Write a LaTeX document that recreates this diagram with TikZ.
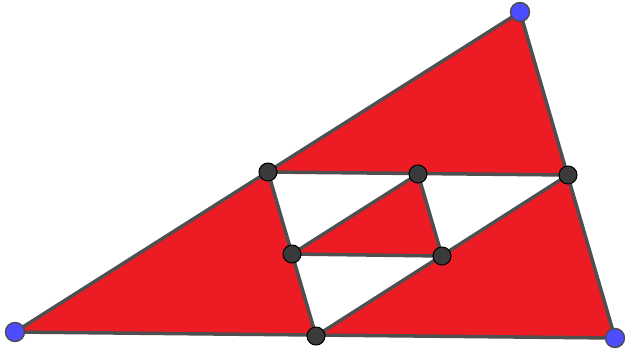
\documentclass[tikz,border=0pt]{standalone}
\usetikzlibrary{calc}

\definecolor{fillred}{HTML}{ED1C24}
\definecolor{edgegray}{HTML}{4F4F4F}
\definecolor{ptblue}{HTML}{4D4DFF}
\definecolor{ptdark}{HTML}{3A3A3A}

\begin{document}
\begin{tikzpicture}[
    x=0.02cm, y=-0.02cm,
    edge/.style={draw=edgegray, line width=2pt, line join=round},
    piece/.style={fill=fillred, draw=none},
    vertexpt/.style={circle, fill=ptblue, draw=black!70, line width=0.8pt, minimum size=0.38cm, inner sep=0pt},
    midpt/.style={circle, fill=ptdark, draw=black, line width=0.6pt, minimum size=0.36cm, inner sep=0pt},
]
\useasboundingbox (0,0) rectangle (625,352);

% outer triangle
\coordinate (A) at (15,332);
\coordinate (B) at (520,12);
\coordinate (C) at (615,338);

% midpoints of the sides
\coordinate (mAB) at (268,172);
\coordinate (mBC) at (568,175);
\coordinate (mAC) at (316,336);

% midpoints of the middle triangle
\coordinate (nT) at (418,174);
\coordinate (nL) at (292,254);
\coordinate (nR) at (442,256);

% Red pieces
\fill[piece] (A) -- (mAB) -- (mAC) -- cycle;
\fill[piece] (B) -- (mAB) -- (mBC) -- cycle;
\fill[piece] (C) -- (mBC) -- (mAC) -- cycle;
\fill[piece] (nT) -- (nL) -- (nR) -- cycle;

% Edges
\draw[edge] (A) -- (B) -- (C) -- cycle;
\draw[edge] (mAB) -- (mBC) -- (mAC) -- cycle;
\draw[edge] (nT) -- (nL) -- (nR) -- cycle;

% Points
\foreach \p in {A, B, C}{
    \node[vertexpt] (pt\p) at (\p) {};
}
\foreach \p in {mAB, mBC, mAC, nT, nL, nR}{
    \node[midpt] (pt\p) at (\p) {};
}

\end{tikzpicture}
\end{document}
